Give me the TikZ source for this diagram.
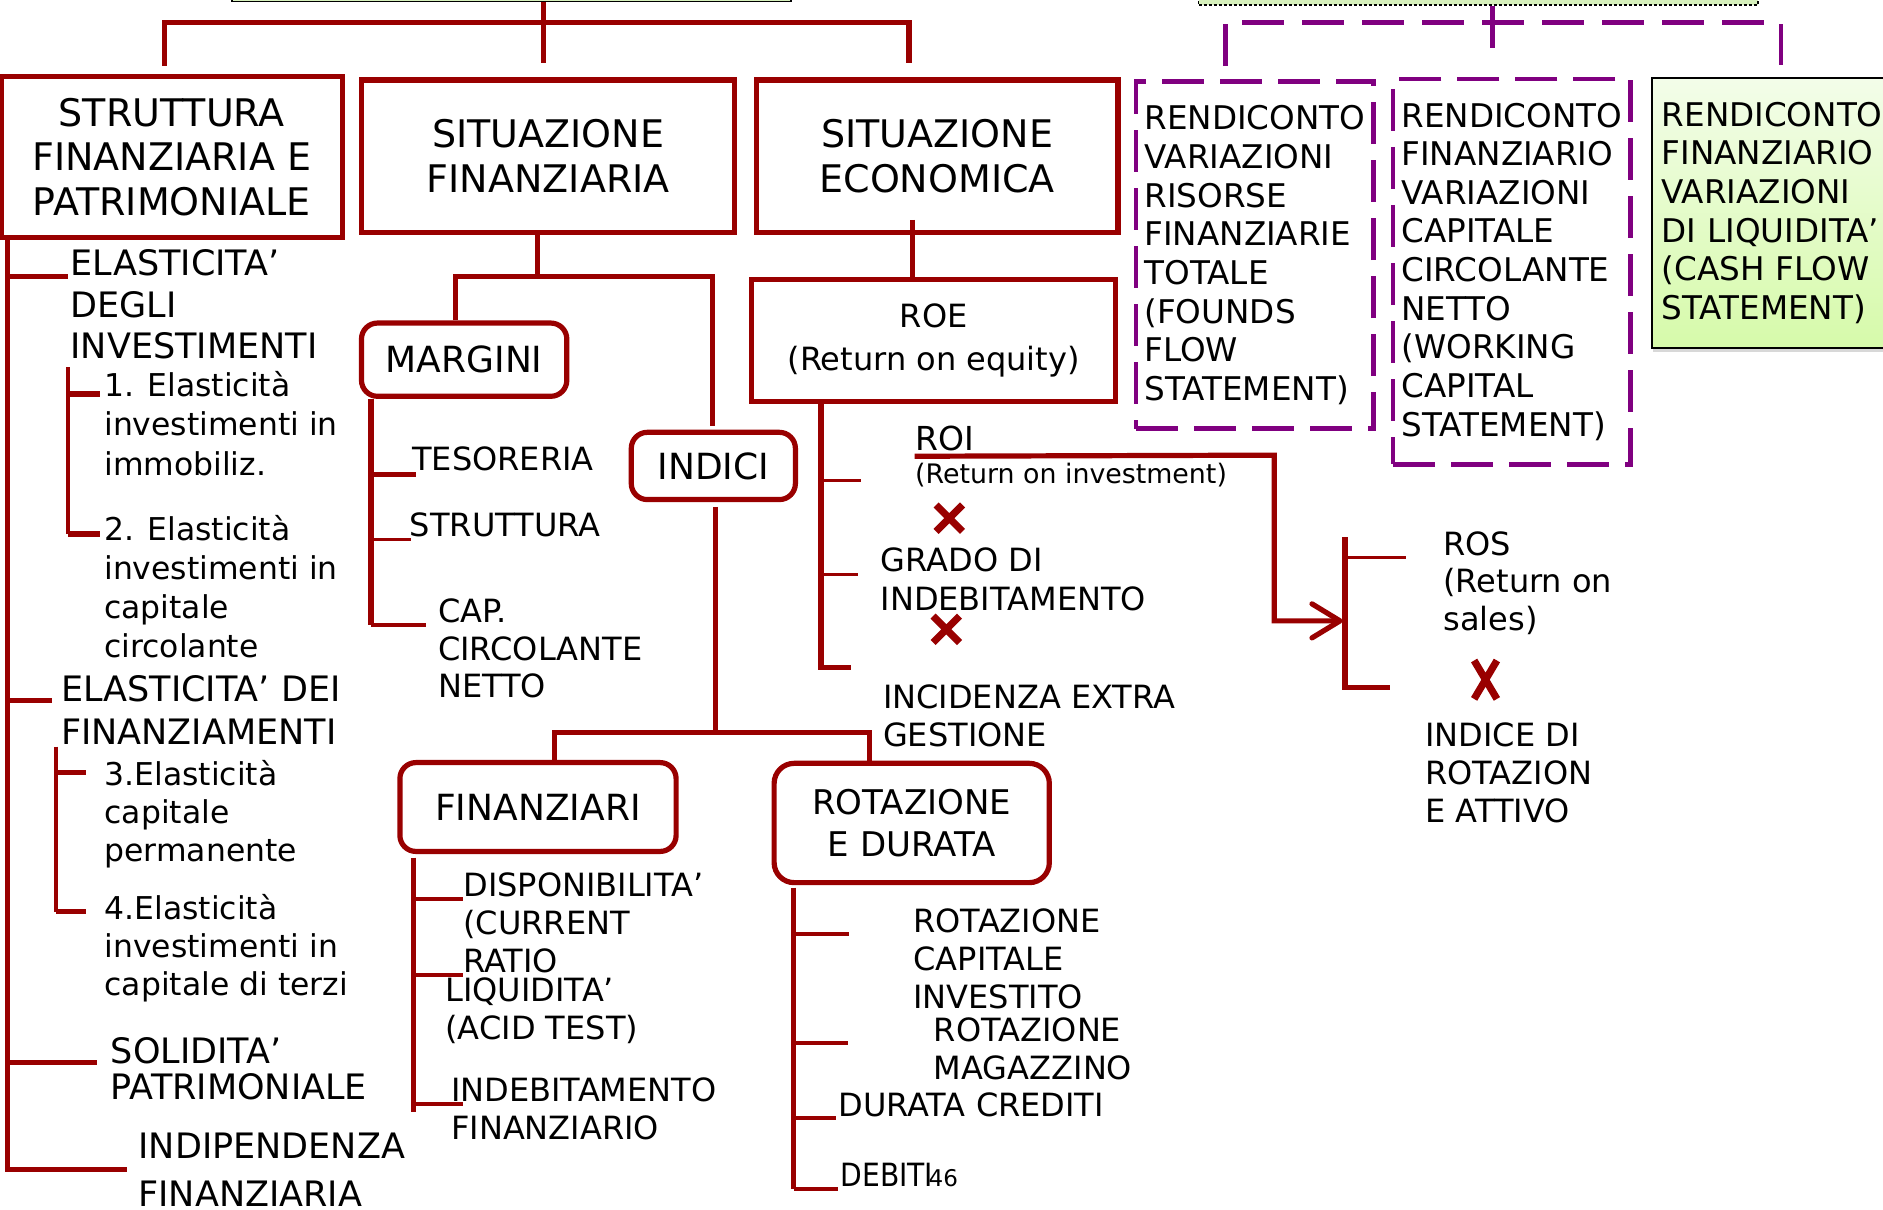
\documentclass[tikz,border=0pt]{standalone}
\usepackage{fontspec}
\setmainfont{DejaVu Sans}
\usetikzlibrary{calc,arrows.meta,shadows}
\definecolor{dred}{RGB}{153,0,0}
\definecolor{dpur}{RGB}{128,0,128}
\definecolor{lgreen}{RGB}{214,240,188}
\definecolor{gtop}{RGB}{243,253,233}
\definecolor{gbot}{RGB}{214,250,170}
\newcommand{\fsz}[2]{\fontsize{#1pt}{#2pt}\selectfont}
\begin{document}
\begin{tikzpicture}[x=0.6pt,y=-0.6pt,
  conn/.style={draw=dred, line width=2.6pt},
  thinc/.style={draw=dred, line width=1.6pt},
  medc/.style={draw=dred, line width=2pt},
  rbox/.style={draw=dred, line width=2.6pt, fill=white, inner sep=0pt, align=center},
  rrbox/.style={rbox, rounded corners=8pt},
  pbox/.style={draw=dpur, line width=2.4pt, dash pattern=on 21pt off 8pt, fill=white, inner sep=0pt, align=left},
  pconn/.style={draw=dpur, line width=2.4pt, dash pattern=on 21pt off 9pt},
  lbl/.style={anchor=base west, inner sep=0pt, align=left},
  fL/.style={font=\fsz{17.5}{20.8}},
  fS/.style={font=\fsz{15.7}{19.6}},
  fM/.style={font=\fsz{16}{19}},
  fT/.style={font=\fsz{19}{22.3}},
  fR/.style={font=\fsz{16.3}{19.3}},
  xmark/.style={draw=dred, line width=3.6pt}
]
\useasboundingbox (0,0) rectangle (1568,1007);
\clip (0,0) rectangle (1568,1007);

% ---------- top boxes (cut off) ----------
\node[draw=black, line width=0.8pt, fill=lgreen, minimum width=279.2pt, minimum height=24.84pt, inner sep=0pt] (topL) at (425.95,-19.3) {};
\node[draw=black, line width=0.8pt, dash pattern=on 1.5pt off 1pt, fill=lgreen, minimum width=279.6pt, minimum height=26.5pt, inner sep=0pt] (topR) at (1231,-17.9) {};

% ---------- first row boxes ----------
\node[rbox, fT, minimum width=170.4pt, minimum height=80.16pt] (sfp) at (143,130.8) {STRUTTURA\\FINANZIARIA E\\PATRIMONIALE};
\node[rbox, fT, minimum width=186.24pt, minimum height=76.14pt] (sf) at (456.5,130.05) {SITUAZIONE\\FINANZIARIA};
\node[rbox, fT, minimum width=180.72pt, minimum height=76.14pt] (se) at (780.4,130.05) {SITUAZIONE\\ECONOMICA};
\node[pbox, fR, minimum width=118.8pt, minimum height=173.22pt] (rv) at (1045,212.5) {RENDICONTO\\VARIAZIONI\\RISORSE\\FINANZIARIE\\TOTALE\\(FOUNDS\\FLOW\\STATEMENT)};
\node[pbox, fR, minimum width=118.8pt, minimum height=192.48pt] (rf) at (1259,226.2) {RENDICONTO\\FINANZIARIO\\VARIAZIONI\\CAPITALE\\CIRCOLANTE\\NETTO\\(WORKING\\CAPITAL\\STATEMENT)};
\node[draw=black, line width=0.9pt, top color=gtop, bottom color=gbot, drop shadow={shadow xshift=0.6pt, shadow yshift=-2pt, fill=black!30}, inner xsep=4.9pt, inner ysep=0pt, text width=120pt, minimum height=134.58pt, anchor=west, align=left, fR] (rl) at (1374.8,177.35) {RENDICONTO\\FINANZIARIO\\VARIAZIONI\\DI LIQUIDITA’\\(CASH FLOW\\STATEMENT)};

% ---------- second level boxes ----------
\node[rbox, font=\fsz{16}{21.9}, minimum width=181.8pt, minimum height=60.6pt] (roe) at (777.5,283.5) {ROE\\(Return on equity)};
\node[rrbox, font=\fsz{18}{21}, minimum width=102.6pt, minimum height=36.6pt] (margini) at (386.5,299.5) {MARGINI};
\node[rrbox, font=\fsz{18}{21}, minimum width=82pt, minimum height=33.6pt] (indici) at (594,388) {INDICI};
\node[rrbox, font=\fsz{18}{21}, minimum width=138pt, minimum height=44.4pt] (finanziari) at (448,672) {FINANZIARI};
\node[rbox, rounded corners=10pt, font=\fsz{17}{20.8}, minimum width=137.5pt, minimum height=59.6pt] (rotaz) at (759.2,685.3) {ROTAZIONE\\E DURATA};

% ---------- labels: left column (positions = baseline of last line) ----------
\node[lbl, fL] (ela1) at (58.5,298.8) {ELASTICITA’\\DEGLI\\INVESTIMENTI};
\node[lbl, fS] (e1) at (86.5,395.6) {1. Elasticità\\investimenti in\\immobiliz.};
\node[lbl, fS] (e2) at (86.5,547.7) {2. Elasticità\\investimenti in\\capitale\\circolante};
\node[lbl, font=\fsz{17.5}{21.3}] (ela2) at (50.5,619.8) {ELASTICITA’ DEI\\FINANZIAMENTI};
\node[lbl, font=\fsz{15.7}{19.1}] (e3) at (86.8,717.4) {3.Elasticità\\capitale\\permanente};
\node[lbl, font=\fsz{15.7}{19.1}] (e4) at (86.8,829.2) {4.Elasticità\\investimenti in\\capitale di terzi};
\node[lbl, font=\fsz{17.5}{18}] (sol) at (92,915.4) {SOLIDITA’\\PATRIMONIALE};
\node[lbl, font=\fsz{17.5}{24.1}] (indf) at (115,1004.8) {INDIPENDENZA\\FINANZIARIA};

% ---------- labels: middle ----------
\node[lbl, fM] (tes) at (343,391.4) {TESORERIA};
\node[lbl, fM] (strm) at (341,447) {STRUTTURA};
\node[lbl, font=\fsz{16}{18.8}] (capc) at (364.5,581.2) {CAP.\\CIRCOLANTE\\NETTO};
\node[lbl, font=\fsz{16}{19}] (disp) at (385.5,810) {DISPONIBILITA’\\(CURRENT\\RATIO};
\node[lbl, font=\fsz{16}{19.2}] (liq) at (370.6,866) {LIQUIDITA’\\(ACID TEST)};
\node[lbl, font=\fsz{16}{19.1}] (indeb) at (375.4,949.2) {INDEBITAMENTO\\FINANZIARIO};
\node[lbl, font=\fsz{16}{19}] (rci) at (760.3,839.7) {ROTAZIONE\\CAPITALE\\INVESTITO};
\node[lbl, font=\fsz{16}{18.7}] (rmag) at (777.4,898.6) {ROTAZIONE\\MAGAZZINO};
\node[lbl, fM] (dcr) at (697.8,929.9) {DURATA CREDITI};
\node[lbl, fM] (deb) at (699.6,988.2) {\scalebox{0.88}[1]{DEBITI}};
\node[lbl, font=\fsz{11.5}{13}] (pg) at (773,988.2) {46};

% ---------- labels: right ----------
\node[lbl, font=\fsz{16.5}{19}] (roi) at (761.7,375.2) {ROI};
\node[lbl, font=\fsz{13.4}{16}] (roiinv) at (761.7,402.5) {(Return on investment)};
\node[lbl, font=\fsz{16}{19.5}] (grado) at (733,508) {GRADO DI\\INDEBITAMENTO};
\node[lbl, font=\fsz{16}{18.8}] (incid) at (735,621.5) {INCIDENZA EXTRA\\GESTIONE};
\node[lbl, font=\fsz{16}{18.6}] (ros) at (1201.6,524.7) {ROS\\(Return on\\sales)};
\node[lbl, font=\fsz{16}{19}] (idr) at (1186.6,685) {INDICE DI\\ROTAZION\\E ATTIVO};

% ---------- top connectors ----------
\coordinate (tj) at (452.7,18.9);
\coordinate (tL) at (137.3,18.9);
\coordinate (tR) at (757,18.9);
\draw[conn] (topL.south -| tj) -- ($(tj |- sf.north)+(0,-12)$);
\draw[conn] ($(tL |- sfp.north)+(0,-7)$) -- (tL) -- (tR) -- ($(tR |- se.north)+(0,-12)$);

\coordinate (pj) at (1243,18.9);
\coordinate (pL) at (1020.5,18.9);
\coordinate (pR) at (1483,18.9);
\draw[pconn] (topR.south -| pj) -- ($(pj |- rf.north)+(0,-11)$);
\draw[pconn] ($(pL |- rv.north)+(0,-11)$) -- (pL) -- (pR) -- ($(pR |- rl.north)+(0,-10)$);

% ---------- left column ----------
\coordinate (lT) at (6,0);
\coordinate (bEI) at (56.5,230.4);
\coordinate (bED) at (43.6,583.5);
\coordinate (bSP) at (80.7,884.9);
\coordinate (bIF) at (105.8,973.7);
\draw[conn] (lT |- sfp.south) -- (lT |- bIF) -- (bIF);
\draw[conn] (lT |- bEI) -- (bEI);
\draw[conn] (lT |- bED) -- (bED);
\draw[conn] (lT |- bSP) -- (bSP);
\coordinate (s1) at (56.5,306);
\coordinate (b1) at (83,328);
\coordinate (b2) at (83,444.7);
\draw[medc] (s1) -- (s1 |- b2);
\draw[conn] (s1 |- b1) -- (b1);
\draw[conn] (s1 |- b2) -- (b2);
\coordinate (s2) at (46.4,621.8);
\coordinate (b3) at (71.9,643.4);
\coordinate (b4) at (71.9,759.2);
\draw[medc] (s2) -- (s2 |- b4);
\draw[conn] (s2 |- b3) -- (b3);
\draw[conn] (s2 |- b4) -- (b4);

% ---------- situazione finanziaria ----------
\coordinate (sfj) at (447.3,230.4);
\coordinate (mL) at (379.4,230.4);
\coordinate (iR) at (593.4,230.4);
\draw[conn] (sf.south -| sfj) -- (sfj);
\draw[conn] (mL |- margini.north) -- (mL) -- (iR) -- ($(iR |- indici.north)+(0,-3.5)$);

\coordinate (mT) at (309,0);
\coordinate (bTes) at (346,395);
\coordinate (bStr) at (342,449);
\coordinate (bCap) at (355,520.5);
\draw[conn] (mT |- margini.south) -- (mT |- bCap);
\draw[conn] (mT |- bTes) -- (bTes);
\draw[thinc] (mT |- bStr) -- (bStr);
\draw[thinc] (mT |- bCap) -- (bCap);

\coordinate (ij) at (596,610);
\coordinate (jF) at (462,610);
\coordinate (jR) at (724.3,610);
\draw[conn] ($(ij |- indici.south)+(0,4)$) -- (ij);
\draw[conn] (jF |- finanziari.north) -- (jF) -- (jR) -- (jR |- rotaz.north);

\coordinate (fT) at (344,0);
\coordinate (fE) at (344,925.7);
\coordinate (bDi) at (385.5,748.6);
\coordinate (bLi) at (385.5,811.9);
\coordinate (bIn) at (385.5,919.3);
\draw[conn] ($(fT |- finanziari.south)+(0,3)$) -- (fE);
\draw[thinc] (fT |- bDi) -- (bDi);
\draw[thinc] (fT |- bLi) -- (bLi);
\draw[thinc] (fT |- bIn) -- (bIn);

\coordinate (rT) at (661,0);
\coordinate (bRc) at (707.3,778);
\coordinate (bRm) at (706.5,868.8);
\coordinate (bDc) at (695.8,931.2);
\coordinate (bDb) at (697.6,990);
\draw[conn] ($(rT |- rotaz.south)+(0,2)$) -- (rT |- bDb);
\draw[medc] (rT |- bRc) -- (bRc);
\draw[medc] (rT |- bRm) -- (bRm);
\draw[medc] (rT |- bDc) -- (bDc);
\draw[medc] (rT |- bDb) -- (bDb);

% ---------- situazione economica ----------
\coordinate (eJ) at (759.6,183);
\draw[conn] (eJ) -- (eJ |- roe.north);
\coordinate (eT) at (683.6,0);
\coordinate (bRoi) at (717,400);
\coordinate (bGr) at (714.5,478.3);
\coordinate (bIe) at (708.6,555.8);
\draw[conn] (eT |- roe.south) -- (eT |- bIe) -- (bIe);
\draw[thinc] (eT |- bRoi) -- (bRoi);
\draw[thinc] (eT |- bGr) -- (bGr);

\coordinate (aC1) at (1061,379);
\coordinate (aC2) at (1061,517);
\coordinate (rsT) at (1120,447.4);
\coordinate (bRos) at (1170.5,464);
\coordinate (bIdr) at (1157.8,572.3);
\draw[conn, -{Straight Barb[length=14pt,width=17pt,round]}] ($(roi.south west)+(0,4)$) -- (aC1) -- (aC2) -- ($(aC2 -| rsT)+(-2,0)$);
\draw[conn] (rsT) -- (rsT |- bIdr) -- (bIdr);
\draw[thinc] (rsT |- bRos) -- (bRos);

% ---------- red crosses ----------
\coordinate (x1) at (790.5,431.5);
\coordinate (x2) at (788,524);
\coordinate (x3) at (1237,566);
\draw[xmark] ($(x1)+(-11,-11)$) -- ($(x1)+(11,11)$) ($(x1)+(11,-11)$) -- ($(x1)+(-11,11)$);
\draw[xmark] ($(x2)+(-11,-11)$) -- ($(x2)+(11,11)$) ($(x2)+(11,-11)$) -- ($(x2)+(-11,11)$);
\draw[xmark] ($(x3)+(-9.5,-16)$) -- ($(x3)+(9.5,16)$) ($(x3)+(9.5,-16)$) -- ($(x3)+(-9.5,16)$);
\end{tikzpicture}
\end{document}
